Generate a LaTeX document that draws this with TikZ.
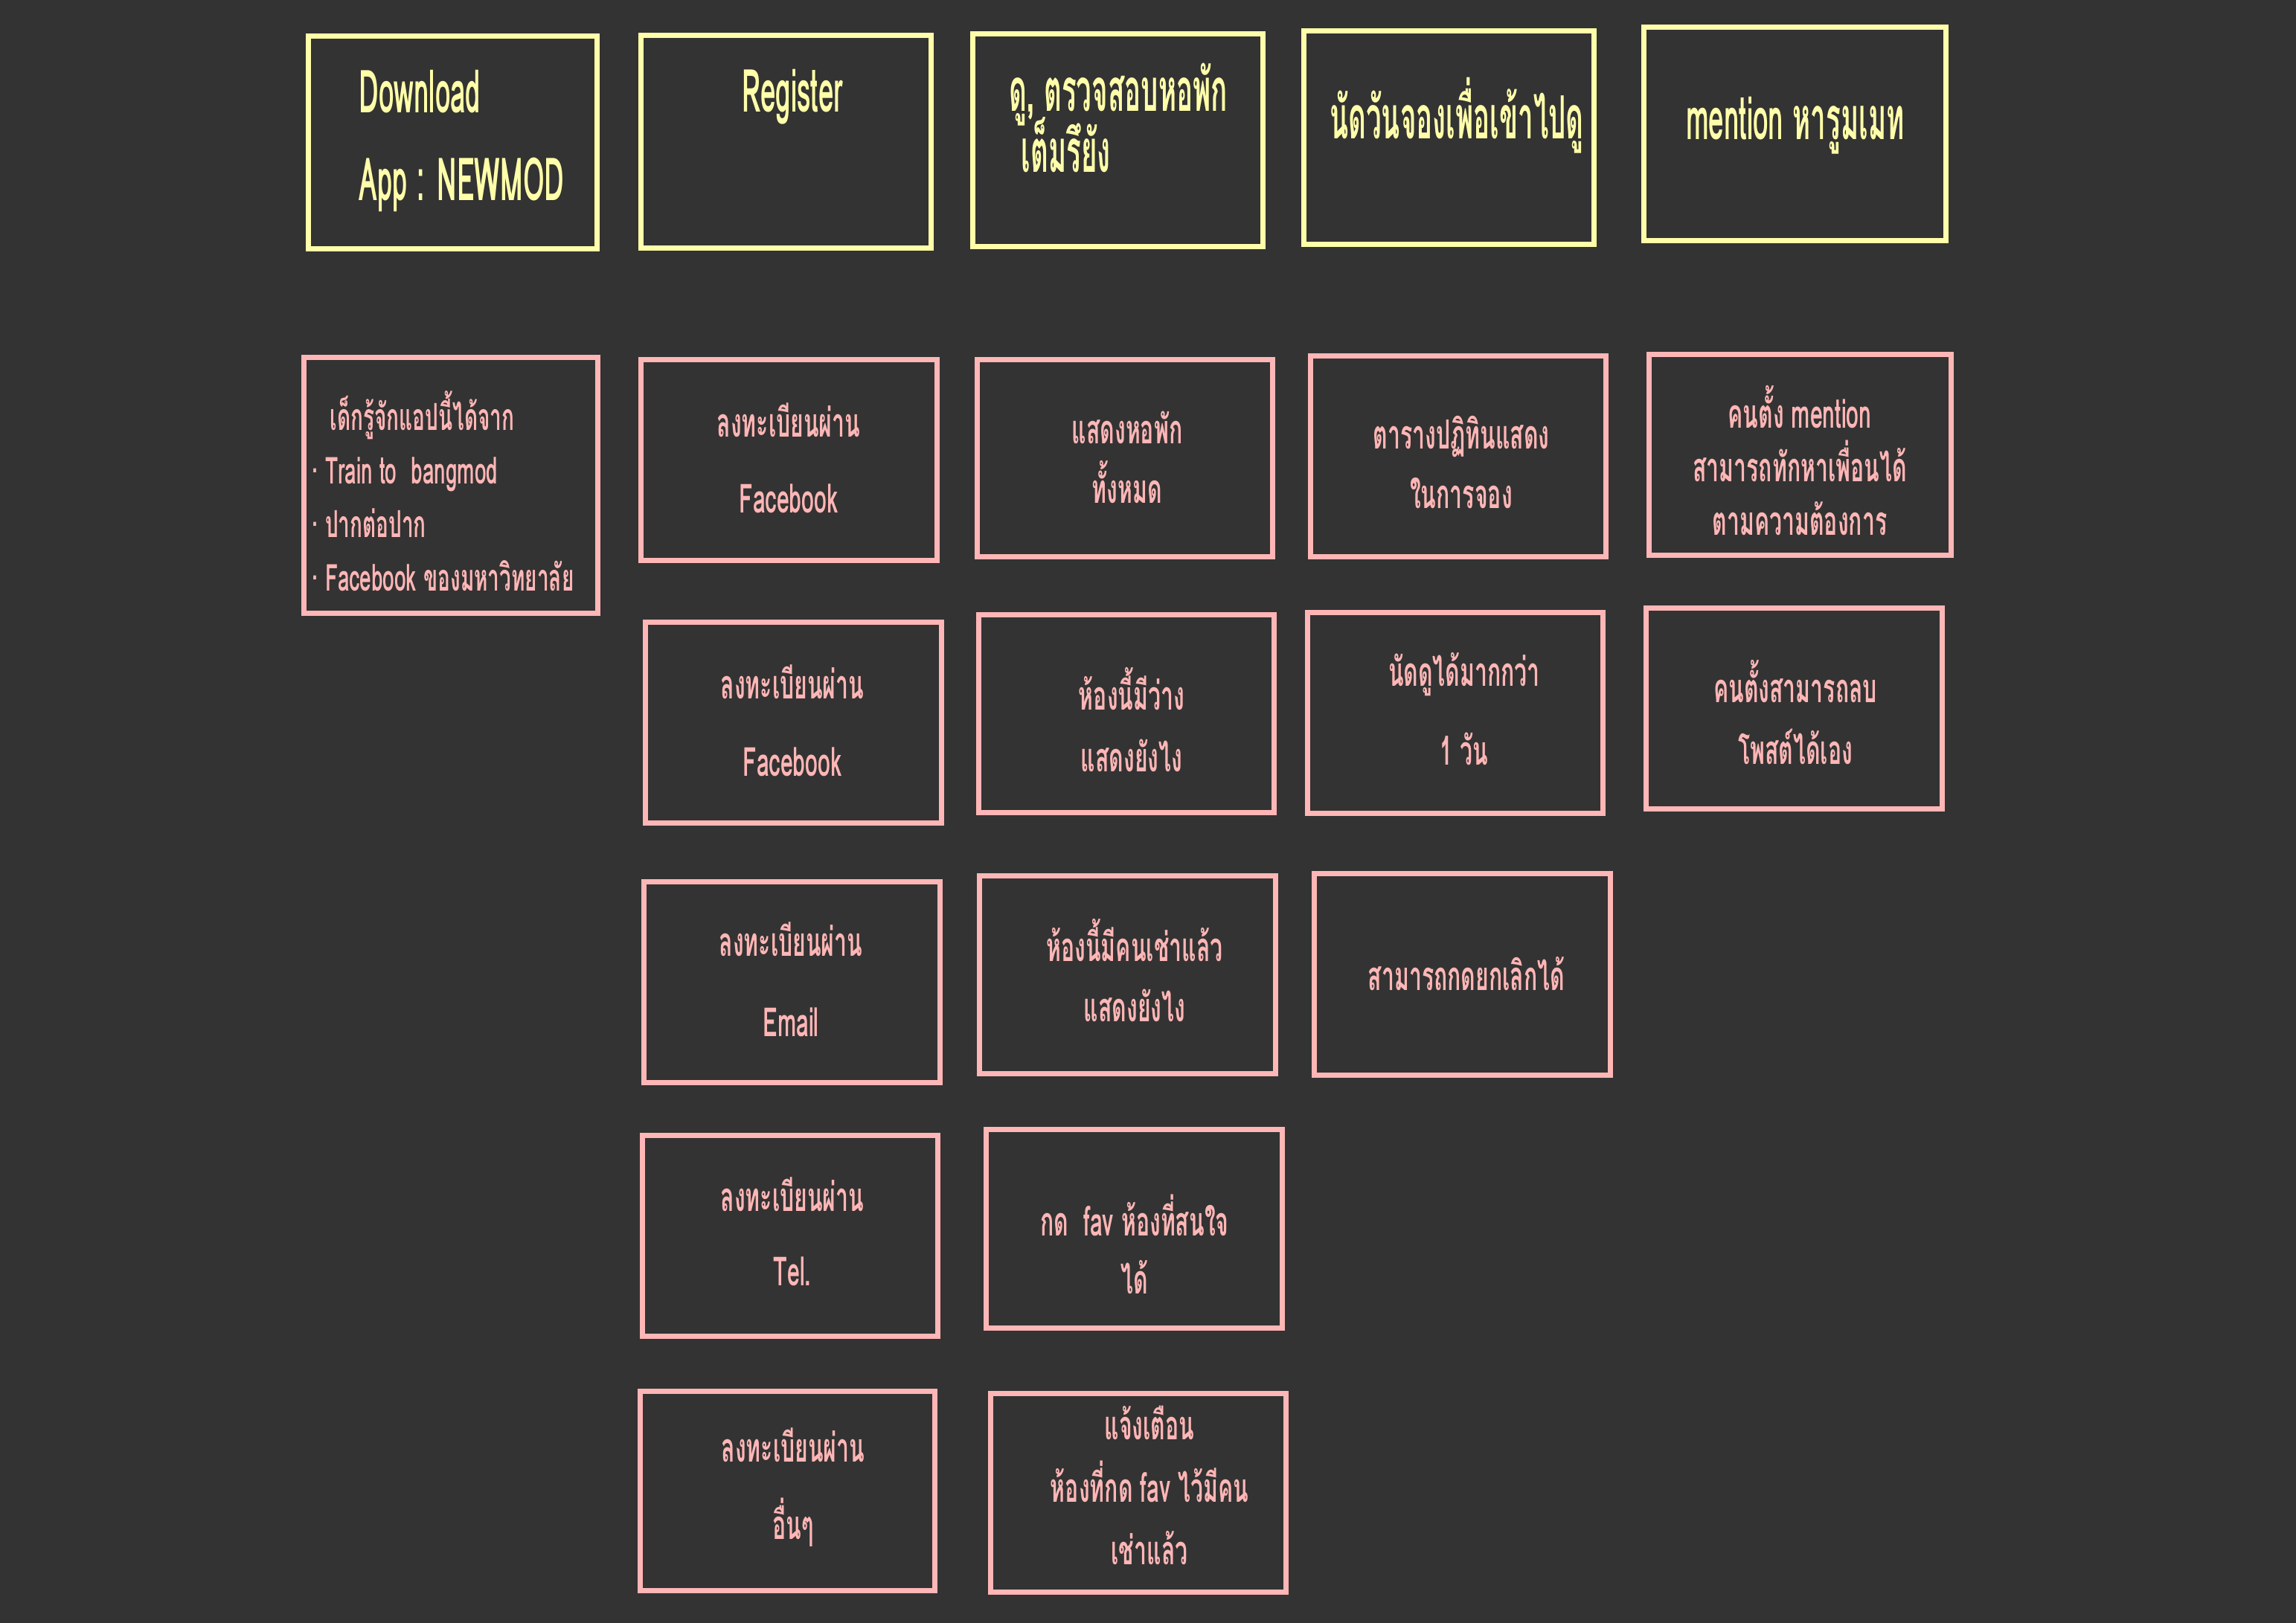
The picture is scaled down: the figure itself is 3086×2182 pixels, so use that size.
\documentclass[tikz,border=0pt]{standalone}
\usepackage{fontspec}
\newfontfamily\thfont[Script=Thai,FakeStretch=0.56]{Loma}
\newfontfamily\thyfont[Script=Thai,FakeStretch=0.46]{Loma}
\definecolor{bgc}{HTML}{333333}
\definecolor{ycol}{HTML}{FFFFAA}
\definecolor{pcol}{HTML}{FFB6B6}
\newcommand\mkbox[6]{\node[#2, minimum width={(#5-#3-7)*0.25pt}, minimum height={(#6-#4-7)*0.25pt}] (#1) at ({(#3+#5)/2},{(#4+#6)/2}) {};}
\newcommand\bul{\raisebox{0.3em}{.}}
\newcommand\nolsk{\lineskiplimit=-100pt\lineskip=0pt}
\tikzset{
  ybox/.style={draw=ycol, line width=1.75pt, rectangle, inner sep=0pt},
  pbox/.style={draw=pcol, line width=1.6pt, rectangle, inner sep=0pt},
  ytxt/.style={text=ycol, inner sep=0pt, font=\thyfont\bfseries\fontsize{20pt}{#1}\selectfont\nolsk},
  ytxt/.default=24pt,
  ptxt/.style={text=pcol, inner sep=0pt, align=center, font=\thfont\bfseries\fontsize{13.5pt}{#1}\selectfont\nolsk},
  ptxt/.default=20pt
}
\begin{document}
\begin{tikzpicture}[x=0.25pt,y=-0.25pt]
\fill[bgc] (0,0) rectangle (3086,2182);
\useasboundingbox (0,0) rectangle (3086,2182);
% row 1 (yellow)
\mkbox{y1}{ybox}{411}{45}{806}{338}
\mkbox{y2}{ybox}{858}{44}{1255}{337}
\mkbox{y3}{ybox}{1304}{42}{1701}{335}
\mkbox{y4}{ybox}{1749}{38}{2146}{332}
\mkbox{y5}{ybox}{2206}{33}{2619}{327}
\node[ytxt=29.5pt, align=left, anchor=west] (ty1) at (482,189) {Download\\App : NEWMOD};
\node[ytxt] (ty2) at (1065,130) {Register};
\node[ytxt=20.5pt, align=left, anchor=west] (ty3) at (1356,158) {ดู, ตรวจสอบหอพัก\\\hspace*{4pt}เต็มรึยัง};
\node[ytxt] (ty4) at (1958,155) {นัดวันจองเพื่อเข้าไปดู};
\node[ytxt] (ty5) at (2413,169) {mention หารูมเมท};
% column 1
\mkbox{pa}{pbox}{405}{477}{807}{828}
\node[ptxt=18pt, align=left, anchor=west, font=\thfont\bfseries\fontsize{12.5pt}{18pt}\selectfont\nolsk] (tpa) at (419,660) {\hspace*{6pt}เด็กรู้จักแอปนี้ได้จาก\\\bul\ Train to\ \ bangmod\\\bul\ ปากต่อปาก\\\bul\ Facebook ของมหาวิทยาลัย};
% column 2
\mkbox{pb1}{pbox}{858}{480}{1263}{757}
\mkbox{pb2}{pbox}{864}{833}{1269}{1110}
\mkbox{pb3}{pbox}{862}{1182}{1267}{1459}
\mkbox{pb4}{pbox}{860}{1523}{1264}{1800}
\mkbox{pb5}{pbox}{857}{1867}{1260}{2142}
\node[ptxt=25.5pt] (tpb1) at (1060,616) {ลงทะเบียนผ่าน\\Facebook};
\node[ptxt=26pt] (tpb2) at (1065,969) {ลงทะเบียนผ่าน\\Facebook};
\node[ptxt=27pt] (tpb3) at (1063,1317) {ลงทะเบียนผ่าน\\Email};
\node[ptxt=25pt] (tpb4) at (1065,1656) {ลงทะเบียนผ่าน\\Tel.};
\node[ptxt=26pt] (tpb5) at (1066,2000) {ลงทะเบียนผ่าน\\อื่นๆ};
% column 3
\mkbox{pc1}{pbox}{1310}{480}{1714}{752}
\mkbox{pc2}{pbox}{1312}{823}{1716}{1096}
\mkbox{pc3}{pbox}{1313}{1174}{1718}{1447}
\mkbox{pc4}{pbox}{1322}{1515}{1727}{1789}
\mkbox{pc5}{pbox}{1328}{1870}{1732}{2144}
\node[ptxt=20pt] (tpc1) at (1515,615) {แสดงหอพัก\\ทั้งหมด};
\node[ptxt=20.75pt] (tpc2) at (1521,968) {ห้องนี้มีว่าง\\แสดงยังไง};
\node[ptxt=20.25pt] (tpc3) at (1525,1305) {ห้องนี้มีคนเช่าแล้ว\\แสดงยังไง};
\node[ptxt=19.5pt] (tpc4) at (1525,1673) {กด\ \ fav ห้องที่สนใจ\\ได้};
\node[ptxt=21pt] (tpc5) at (1545,1997) {แจ้งเตือน\\ห้องที่กด fav ไว้มีคน\\เช่าแล้ว};
% column 4
\mkbox{pd1}{pbox}{1758}{475}{2162}{752}
\mkbox{pd2}{pbox}{1754}{820}{2158}{1097}
\mkbox{pd3}{pbox}{1763}{1171}{2168}{1449}
\node[ptxt=20pt] (tpd1) at (1964,621) {ตารางปฏิทินแสดง\\ในการจอง};
\node[ptxt=26.5pt] (tpd2) at (1968,953) {นัดดูได้มากกว่า\\1 วัน};
\node[ptxt] (tpd3) at (1971,1309) {สามารถกดยกเลิกได้};
% column 5
\mkbox{pe1}{pbox}{2213}{473}{2626}{750}
\mkbox{pe2}{pbox}{2209}{814}{2614}{1091}
\node[ptxt=18pt] (tpe1) at (2419,619) {คนตั้ง mention\\สามารถทักหาเพื่อนได้\\ตามความต้องการ};
\node[ptxt=20.75pt] (tpe2) at (2413,958) {คนตั้งสามารถลบ\\โพสต์ได้เอง};
\end{tikzpicture}
\end{document}
